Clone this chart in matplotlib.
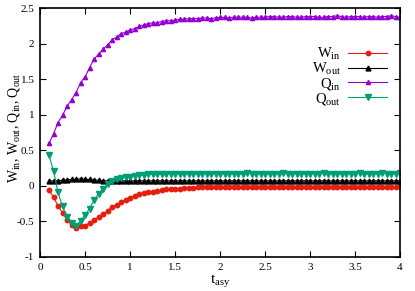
""" Work and heat vs asymmetry time """

import numpy as np
import matplotlib
matplotlib.use('Agg')
import matplotlib.pyplot as plt

plt.rcParams['font.family'] = ['Liberation Serif', 'DejaVu Serif']
plt.rcParams['mathtext.fontset'] = 'custom'
plt.rcParams['mathtext.rm'] = 'Liberation Serif'
plt.rcParams['mathtext.it'] = 'Liberation Serif:italic'
plt.rcParams['axes.unicode_minus'] = False

# DATA
t_asy = np.round(np.arange(0.10, 4.001, 0.05), 2)

w_in = [-0.06, -0.16, -0.28, -0.38, -0.48, -0.55, -0.59, -0.57, -0.56, -0.52,
        -0.48, -0.44, -0.40, -0.35, -0.30, -0.27, -0.23, -0.20, -0.17, -0.14,
        -0.12, -0.10, -0.09, -0.08, -0.07, -0.06, -0.05, -0.05, -0.04, -0.04,
        -0.03, -0.03, -0.03, -0.02, -0.02, -0.02, -0.02, -0.02, -0.02, -0.02,
        -0.02, -0.02, -0.01, -0.02, -0.01, -0.01, -0.01, -0.01, -0.01, -0.01,
        -0.01, -0.01, -0.01, -0.01, -0.01, -0.01, -0.01, -0.01, -0.01, -0.01,
        -0.01, -0.01, -0.01, -0.01, -0.01, -0.01, -0.01, -0.01, -0.01, -0.01,
        -0.01, -0.01, -0.01, -0.01, -0.01, -0.01, -0.01, -0.01, -0.01]

w_out = [0.07, 0.07, 0.07, 0.08, 0.08, 0.09, 0.09, 0.10, 0.09, 0.09,
         0.08, 0.08, 0.07, 0.07, 0.07, 0.07, 0.07, 0.07, 0.07, 0.07,
         0.07, 0.07, 0.07, 0.07, 0.07, 0.07, 0.07, 0.07, 0.07, 0.07,
         0.07, 0.07, 0.07, 0.07, 0.07, 0.07, 0.07, 0.07, 0.07, 0.07,
         0.07, 0.07, 0.07, 0.07, 0.07, 0.07, 0.07, 0.07, 0.07, 0.07,
         0.07, 0.07, 0.07, 0.07, 0.07, 0.07, 0.07, 0.07, 0.07, 0.07,
         0.07, 0.07, 0.07, 0.07, 0.07, 0.07, 0.07, 0.07, 0.07, 0.07,
         0.07, 0.07, 0.07, 0.07, 0.07, 0.07, 0.07, 0.07, 0.07]

q_in = [0.60, 0.73, 0.89, 0.99, 1.12, 1.21, 1.31, 1.45, 1.53, 1.66,
        1.78, 1.85, 1.92, 1.98, 2.05, 2.09, 2.14, 2.16, 2.19, 2.21,
        2.24, 2.26, 2.28, 2.29, 2.29, 2.31, 2.32, 2.32, 2.33, 2.34,
        2.34, 2.35, 2.35, 2.35, 2.36, 2.36, 2.35, 2.36, 2.37, 2.37,
        2.36, 2.37, 2.37, 2.37, 2.37, 2.36, 2.37, 2.37, 2.37, 2.38,
        2.38, 2.37, 2.37, 2.38, 2.38, 2.37, 2.37, 2.38, 2.38, 2.38,
        2.37, 2.37, 2.38, 2.38, 2.39, 2.38, 2.37, 2.38, 2.38, 2.38,
        2.37, 2.38, 2.38, 2.37, 2.38, 2.38, 2.39, 2.38, 2.37]

q_out = [0.43, 0.21, -0.09, -0.29, -0.44, -0.52, -0.57, -0.49, -0.41, -0.32,
         -0.20, -0.11, -0.04, 0.02, 0.07, 0.09, 0.11, 0.12, 0.13, 0.14,
         0.15, 0.15, 0.16, 0.16, 0.16, 0.16, 0.16, 0.17, 0.17, 0.17,
         0.17, 0.17, 0.17, 0.17, 0.17, 0.17, 0.17, 0.17, 0.17, 0.17,
         0.17, 0.17, 0.17, 0.17, 0.18, 0.17, 0.17, 0.17, 0.17, 0.17,
         0.17, 0.17, 0.18, 0.17, 0.17, 0.17, 0.17, 0.17, 0.17, 0.17,
         0.17, 0.18, 0.17, 0.17, 0.17, 0.17, 0.17, 0.17, 0.17, 0.18,
         0.17, 0.17, 0.17, 0.17, 0.18, 0.17, 0.17, 0.17, 0.18]

x_ticks = [0, 0.5, 1, 1.5, 2, 2.5, 3, 3.5, 4]
y_ticks = [-1, -0.5, 0, 0.5, 1, 1.5, 2, 2.5]

fig = plt.figure(figsize=(4.15, 2.91), dpi=100)
ax = fig.add_axes([40 / 415, 1 - 257 / 291, 360 / 415, 249 / 291])

ax.plot(t_asy, w_in, color='#e51e10', lw=0.8, marker='o', ms=3.2,
        label=r'W$_{\rm in}$')
ax.plot(t_asy, w_out, color='black', lw=0.8, marker='^', ms=3.5,
        label=r'W$_{\rm out}$')
ax.plot(t_asy, q_in, color='#9400d3', lw=0.8, marker='^', ms=3.0,
        label=r'Q$_{\rm in}$')
ax.plot(t_asy, q_out, color='#009e73', lw=0.8, marker='v', ms=3.8,
        label=r'Q$_{\rm out}$')

ax.set_xlim(0, 4)
ax.set_ylim(-1, 2.5)
ax.set_xticks(x_ticks)
ax.set_xticklabels([f'{v:g}' for v in x_ticks])
ax.set_yticks(y_ticks)
ax.set_yticklabels([f'{v:g}' for v in y_ticks])
ax.tick_params(direction='in', top=True, right=True, length=4,
               width=0.8, labelsize=8, pad=4)
for s in ax.spines.values():
    s.set_linewidth(1.2)

ax.set_xlabel(r't$_{\rm asy}$', fontsize=11, labelpad=0)
ax.set_ylabel(r'W$_{\rm in}$, W$_{\rm out}$, Q$_{\rm in}$, Q$_{\rm out}$',
              fontsize=10)
ax.yaxis.set_label_coords(-0.05, 0.52)

ax.legend(loc='upper right', bbox_to_anchor=(0.965, 0.848), frameon=False,
          markerfirst=False, fontsize=10.5, handlelength=2.7, labelspacing=-0.08,
          borderpad=0, borderaxespad=0, handletextpad=0.5)

fig.savefig('out.png', dpi=100)
